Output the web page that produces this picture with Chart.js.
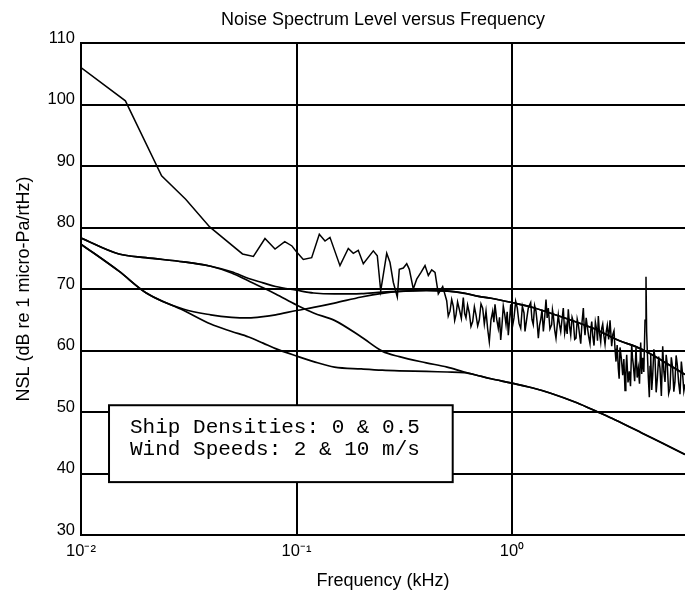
<!DOCTYPE html>
<html><head><meta charset="utf-8">
<script src="https://cdn.jsdelivr.net/npm/chart.js@4"></script>
<style>html,body{margin:0;padding:0;background:#fff;}#wrap{width:685px;height:593px;}</style>
</head><body><div id="wrap"><canvas id="c" width="685" height="593"></canvas></div>
<script>
const chartTitle = 'Noise Spectrum Level versus Frequency';
const xTitle = 'Frequency (kHz)';
const yTitle = 'NSL (dB re 1 micro-Pa/rtHz)';
const xTickValues = [0.01, 0.1, 1];
const xTickLabels = ['10\u207B\u00B2', '10\u207B\u00B9', '10\u2070'];
const yTickValues = [30, 40, 50, 60, 70, 80, 90, 100, 110];
const noteLines = ['Ship Densities: 0 & 0.5', 'Wind Speeds: 2 & 10 m/s'];

// model curves (kHz, dB)
const modelFreq = [0.01, 0.015, 0.02, 0.03, 0.04, 0.05, 0.06, 0.07, 0.08, 0.1, 0.12, 0.15, 0.2, 0.25, 0.3, 0.4, 0.5, 0.6, 0.7, 0.8, 1, 1.25, 1.5, 2, 2.5, 3, 4, 5, 6.35];
const ship05Wind10 = [78.3, 75.7, 75.1, 74.4, 73.7, 72.8, 71.7, 71.0, 70.4, 69.8, 69.35, 69.2, 69.25, 69.5, 69.6, 69.8, 69.7, 69.35, 68.8, 68.5, 67.8, 67.0, 66.1, 64.6, 63.3, 61.9, 60.2, 58.3, 56.1];
const ship05Wind2  = [78.3, 75.7, 75.1, 74.4, 73.7, 72.6, 71.3, 70.2, 69.2, 67.4, 66.1, 64.9, 62.2, 59.9, 59.0, 58.0, 57.3, 56.5, 55.9, 55.4, 54.7, 53.9, 53.1, 51.5, 50.0, 48.75, 46.6, 44.9, 43.1];
const ship0Wind10  = [77.3, 72.9, 69.4, 66.7, 65.8, 65.4, 65.3, 65.5, 65.8, 66.5, 67.0, 67.7, 68.7, 69.3, 69.6, 69.75, 69.65, 69.3, 68.8, 68.5, 67.8, 67.0, 66.1, 64.6, 63.3, 61.9, 60.2, 58.3, 56.1];
const ship0Wind2   = [77.3, 72.9, 69.4, 66.5, 64.3, 63.1, 62.2, 61.2, 60.3, 59.1, 58.2, 57.3, 57.0, 56.8, 56.7, 56.6, 56.5, 56.4, 55.9, 55.4, 54.7, 53.9, 53.1, 51.5, 50.0, 48.75, 46.6, 44.9, 43.1];

// measured spectrum (kHz, dB)
const measFreq = [0.01, 0.01607, 0.02366, 0.0306, 0.03955, 0.05616, 0.0631,
 0.0714, 0.0795, 0.0882, 0.0953, 0.1002, 0.1075, 0.1176, 0.1276, 0.1356, 0.143, 0.1591, 0.1739, 0.1835, 0.1935,
 0.2042, 0.2272, 0.2371, 0.2459, 0.2622, 0.2716, 0.2813, 0.2936, 0.2999, 0.3131, 0.3247, 0.3338, 0.3483, 0.3612,
 0.3782, 0.3948, 0.409, 0.4241, 0.4393, 0.455, 0.4769,
 0.4977, 0.506, 0.5156, 0.525, 0.5341, 0.542, 0.5497, 0.559, 0.5695, 0.582, 0.5943, 0.603, 0.6116, 0.622, 0.6337, 0.645,
 0.657, 0.669, 0.6806, 0.693, 0.7051, 0.718, 0.7311, 0.744, 0.7575, 0.771, 0.7846, 0.799, 0.8135, 0.824, 0.8338, 0.849,
 0.8637, 0.875, 0.8863, 0.898, 0.9112, 0.925, 0.938, 0.95, 0.9612, 0.974, 0.9863, 1.004, 1.0216, 1.04, 1.0583, 1.078,
 1.0975, 1.117, 1.137, 1.149, 1.17, 1.19, 1.221, 1.238, 1.255, 1.273, 1.292, 1.308, 1.325, 1.342, 1.359, 1.378, 1.398,
 1.418, 1.438, 1.456, 1.474, 1.5, 1.528, 1.541, 1.554, 1.577, 1.6, 1.62, 1.64, 1.661, 1.683, 1.706, 1.73, 1.755, 1.781,
 1.803, 1.825, 1.849, 1.873, 1.9, 1.926, 1.954, 1.982, 2.007, 2.032, 2.058, 2.084, 2.113, 2.143, 2.162, 2.182, 2.209,
 2.236, 2.268, 2.301, 2.322, 2.344, 2.373, 2.402, 2.437, 2.472, 2.493, 2.515, 2.547, 2.58, 2.608, 2.636, 2.669, 2.702,
 2.735, 2.768, 2.809, 2.85, 2.901, 2.937, 2.974, 3.006, 3.038, 3.076, 3.114, 3.142, 3.171, 3.217, 3.263, 3.304, 3.345,
 3.375, 3.406, 3.454, 3.501, 3.547, 3.593, 3.624, 3.655, 3.708, 3.762, 3.809, 3.856, 3.905, 3.955, 3.998, 4.041, 4.09,
 4.142, 4.186, 4.215, 4.245, 4.29, 4.337, 4.37, 4.402, 4.45, 4.497, 4.553, 4.609, 4.666, 4.724, 4.793, 4.862, 4.933,
 5.004, 5.066, 5.129, 5.193, 5.257, 5.332, 5.407, 5.486, 5.566, 5.635, 5.704, 5.776, 5.848, 5.933, 6.019, 6.107, 6.195,
 6.272, 6.35];
const measLevel = [106.0, 100.6, 88.4, 84.6, 80.1, 75.7, 75.3,
 78.2, 76.5, 77.7, 77.0, 76.0, 74.8, 75.1, 78.9, 77.8, 78.4, 73.8, 76.6, 75.8, 76.3,
 74.1, 76.2, 75.4, 69.7, 75.8, 74.3, 71.1, 68.7, 73.2, 73.4, 74.1, 73.2, 70.0, 71.6,
 72.7, 73.8, 72.2, 73.1, 72.7, 69.2, 70.4,
 68.1, 65.6, 66.4, 68.3, 67.2, 64.9, 65.8, 67.9, 66.7, 65.2, 68.6, 66.0, 65.3, 67.4, 66.1, 63.9,
 64.7, 67.1, 65.8, 64.0, 65.0, 67.6, 66.9, 64.3, 66.4, 63.5, 61.4, 65.0, 66.4, 64.6, 67.5, 65.1,
 63.6, 65.4, 61.7, 64.0, 67.2, 65.9, 64.2, 66.3, 62.5, 64.9, 67.5, 63.8, 65.3, 68.0, 66.9, 64.4,
 63.6, 67.2, 66.1, 63.1, 65.1, 66.9, 67.8, 65.0, 64.2, 67.3, 66.4, 64.6, 62.0, 64.1, 65.0, 66.6, 63.1,
 65.4, 68.3, 65.3, 66.9, 63.5, 64.2, 66.6, 65.8, 63.4, 62.0, 64.0, 65.8, 64.2, 63.1, 65.0, 66.9, 62.8, 64.2,
 62.7, 66.7, 64.0, 62.5, 65.4, 64.7, 61.8, 62.0, 65.1, 64.2, 62.6, 61.1, 64.6, 66.9, 64.0, 62.5, 65.3,
 63.9, 62.3, 61.1, 63.4, 64.7, 62.2, 60.8, 64.6, 63.3, 61.6, 65.6, 62.8, 61.4, 63.6, 64.3, 62.4, 61.0,
 63.0, 64.1, 61.8, 64.9, 60.7, 62.6, 63.2, 60.3, 58.2, 60.9, 57.1, 55.4, 60.5, 58.7, 56.0, 58.6, 53.5,
 56.4, 59.3, 54.8, 56.6, 54.2, 61.0, 58.8, 57.7, 55.0, 60.5, 55.6, 57.1, 54.6, 61.3, 56.2, 58.8, 56.5,
 64.9, 72.0, 63.0, 59.9, 55.7, 52.4, 57.4, 59.3, 53.6, 56.0, 60.2, 58.8, 53.2, 55.4, 59.0, 57.1, 52.6,
 60.7, 56.6, 54.9, 59.3, 57.7, 53.0, 53.8, 58.9, 57.1, 53.3, 54.9, 59.2, 57.7, 54.8, 52.9, 58.2, 56.0,
 53.4, 54.5];

const pairs = (xs, ys) => xs.map((x, i) => ({x: x, y: ys[i]}));

const noteBoxPlugin = {
  id: 'noteBox',
  afterDatasetsDraw(chart, args, opts) {
    const {ctx, scales: {x, y}} = chart;
    const l = x.getPixelForValue(opts.f0), r = x.getPixelForValue(opts.f1);
    const t = y.getPixelForValue(opts.v0), b = y.getPixelForValue(opts.v1);
    ctx.save();
    ctx.fillStyle = '#fff';
    ctx.fillRect(l, t, r - l, b - t);
    ctx.strokeStyle = '#000';
    ctx.lineWidth = 2;
    ctx.strokeRect(l, t, r - l, b - t);
    ctx.fillStyle = '#000';
    ctx.font = opts.font;
    ctx.textBaseline = 'middle';
    ctx.textAlign = 'left';
    opts.lines.forEach((s, i) => ctx.fillText(s, l + opts.indent, t + opts.firstLine + i * opts.lineGap));
    ctx.restore();
  }
};

const lineStyle = {borderColor: '#000', borderWidth: 1.7, pointRadius: 0, fill: false};

Chart.defaults.font.family = '"Liberation Sans", Arial, sans-serif';
Chart.defaults.color = '#000';

new Chart(document.getElementById('c'), {
  type: 'line',
  data: {
    datasets: [
      Object.assign({label: 'Measured', data: pairs(measFreq, measLevel), tension: 0}, lineStyle, {borderWidth: 1.5}),
      Object.assign({label: 'Ship 0.5, Wind 10', data: pairs(modelFreq, ship05Wind10), cubicInterpolationMode: 'monotone'}, lineStyle),
      Object.assign({label: 'Ship 0.5, Wind 2', data: pairs(modelFreq, ship05Wind2), cubicInterpolationMode: 'monotone'}, lineStyle),
      Object.assign({label: 'Ship 0, Wind 10', data: pairs(modelFreq, ship0Wind10), cubicInterpolationMode: 'monotone'}, lineStyle),
      Object.assign({label: 'Ship 0, Wind 2', data: pairs(modelFreq, ship0Wind2), cubicInterpolationMode: 'monotone'}, lineStyle)
    ]
  },
  options: {
    responsive: false,
    animation: false,
    devicePixelRatio: 1,
    layout: {padding: 0},
    plugins: {
      legend: {display: false},
      tooltip: {enabled: false},
      title: {display: true, fullSize: false, text: chartTitle, color: '#000', font: {size: 18, weight: 'normal'}, padding: {top: 9, bottom: 12.4}},
      noteBox: {f0: 0.01349, f1: 0.5307, v0: 51.1, v1: 38.6, font: '21px "Liberation Mono", "Courier New", monospace', indent: 21, firstLine: 22, lineGap: 22, lines: noteLines}
    },
    scales: {
      x: {
        type: 'logarithmic', min: 0.01, max: 6.35,
        afterBuildTicks: (s) => { s.ticks = xTickValues.map(v => ({value: v})); },
        afterFit: (s) => { s.height = 58; },
        ticks: {autoSkip: false, maxRotation: 0, padding: 7, font: {size: 16.5}, color: '#000',
          callback: (v) => { const i = xTickValues.indexOf(v); return i >= 0 ? xTickLabels[i] : ''; }},
        grid: {color: '#000', lineWidth: 2, drawTicks: false},
        border: {color: '#000', width: 2},
        title: {display: true, text: xTitle, color: '#000', font: {size: 18}, padding: {top: 0, bottom: 1}}
      },
      y: {
        type: 'linear', min: 30, max: 110,
        afterBuildTicks: (s) => { s.ticks = yTickValues.map(v => ({value: v})); },
        afterFit: (s) => { s.width = 81; },
        ticks: {padding: 6, labelOffset: -5, font: {size: 16.5}, color: '#000'},
        grid: {color: '#000', lineWidth: 2, drawTicks: false},
        border: {color: '#000', width: 2},
        title: {display: true, text: yTitle, color: '#000', font: {size: 18}, padding: {top: 13, bottom: 0}}
      }
    }
  },
  plugins: [noteBoxPlugin]
});
</script></body></html>
